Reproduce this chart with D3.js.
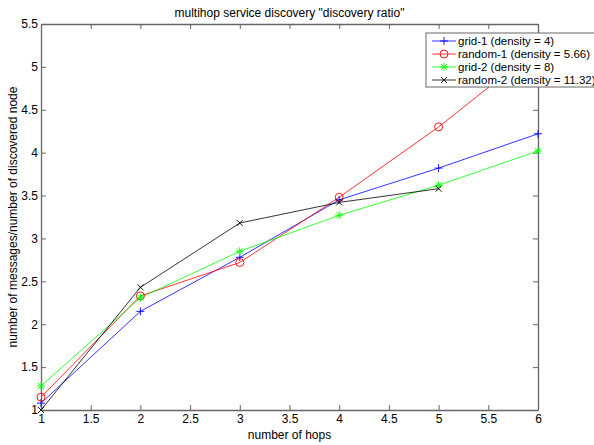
<!DOCTYPE html>
<html>
<head>
<meta charset="utf-8">
<script src="https://cdn.jsdelivr.net/npm/d3@7"></script>
<style>
  body { margin: 0; background: #fff; }
  text { font-family: "Liberation Sans", Arial, sans-serif; }
</style>
</head>
<body>
<div id="chart"></div>
<script>
// data
var hops = [1, 2, 3, 4, 5, 6]
var grid1 = [1.08, 2.15, 2.78, 3.45, 3.82, 4.22]
var random1 = [1.15, 2.33, 2.72, 3.48, 4.30, 5.22]
var grid2 = [1.28, 2.31, 2.85, 3.27, 3.62, 4.02]
var random2 = [1.0, 2.43, 3.18, 3.42, 3.58]
var xTicks = [1, 1.5, 2, 2.5, 3, 3.5, 4, 4.5, 5, 5.5, 6]
var yTicks = [1, 1.5, 2, 2.5, 3, 3.5, 4, 4.5, 5, 5.5]
var seriesNames = ['grid-1 (density = 4)', 'random-1 (density = 5.66)', 'grid-2 (density = 8)', 'random-2 (density = 11.32)']

var W = 594, H = 445
var m = {left: 41, right: 56, top: 24, bottom: 35}
var iw = W - m.left - m.right, ih = H - m.top - m.bottom

var series = [
	{name: seriesNames[0], vals: grid1, color: '#0000ff', marker: 'plus'},
	{name: seriesNames[1], vals: random1, color: '#ff0000', marker: 'circle'},
	{name: seriesNames[2], vals: grid2, color: '#00ff00', marker: 'star'},
	{name: seriesNames[3], vals: random2, color: '#000000', marker: 'cross'}
]

var svg = d3.select('#chart').append('svg').attr('width', W).attr('height', H)

var x = d3.scaleLinear().domain([1, 6]).range([0, iw])
var y = d3.scaleLinear().domain([1, 5.5]).range([ih, 0])

var g = svg.append('g').attr('transform', 'translate(' + m.left + ',' + m.top + ')')

// clip so lines stay inside the axes
svg.append('defs').append('clipPath').attr('id', 'clip')
	.append('rect').attr('width', iw).attr('height', ih)

var axisColor = '#666'
var tl = 5

// axes: bottom/left with labels, top/right ticks only
var xb = g.append('g').attr('transform', 'translate(0,' + ih + ')')
	.call(d3.axisBottom(x).tickValues(xTicks).tickSize(-tl).tickSizeOuter(0).tickPadding(6).tickFormat(d3.format('')))
var xt = g.append('g').call(d3.axisTop(x).tickValues(xTicks).tickSize(-tl).tickSizeOuter(0).tickFormat(''))
var yl = g.append('g').call(d3.axisLeft(y).tickValues(yTicks).tickSize(-tl).tickSizeOuter(0).tickPadding(3).tickFormat(d3.format('')))
var yr = g.append('g').attr('transform', 'translate(' + iw + ',0)')
	.call(d3.axisRight(y).tickValues(yTicks).tickSize(-tl).tickSizeOuter(0).tickFormat(''))

;[xb, xt, yl, yr].forEach(function(a) {
	a.selectAll('path').attr('stroke', axisColor).attr('stroke-width', 1.3)
	a.selectAll('line').attr('stroke', axisColor)
	a.selectAll('text').attr('fill', '#000').style('font-size', '12px')
})
xb.selectAll('text').attr('dy', '0.6em')

var line = d3.line()
	.x(function(d, i) { return x(hops[i]) })
	.y(function(d) { return y(d) })

var plot = g.append('g').attr('clip-path', 'url(#clip)')

function drawMarker(sel, type, color) {
	var s = 4
	if (type == 'circle') {
		sel.append('circle').attr('r', 4).attr('fill', 'none').attr('stroke', color).attr('stroke-width', 0.9)
	}
	if (type == 'plus' || type == 'star') {
		sel.append('path').attr('d', 'M' + (-s) + ',0H' + s + 'M0,' + (-s) + 'V' + s).attr('stroke', color).attr('stroke-width', 0.9)
	}
	if (type == 'cross' || type == 'star') {
		var c = s * 0.75
		sel.append('path').attr('d', 'M' + (-c) + ',' + (-c) + 'L' + c + ',' + c + 'M' + (-c) + ',' + c + 'L' + c + ',' + (-c)).attr('stroke', color).attr('stroke-width', 0.9)
	}
}

series.forEach(function(s) {
	plot.append('path').datum(s.vals).attr('d', line)
		.attr('fill', 'none').attr('stroke', s.color).attr('stroke-width', 0.8)
	s.vals.forEach(function(v, i) {
		var mk = g.append('g').attr('transform', 'translate(' + x(hops[i]) + ',' + y(v) + ')')
		drawMarker(mk, s.marker, s.color)
	})
})

// title and labels
svg.append('text').attr('x', m.left + iw / 2).attr('y', 17).attr('text-anchor', 'middle')
	.style('font-size', '12px').text('multihop service discovery "discovery ratio"')
svg.append('text').attr('x', m.left + iw / 2).attr('y', 439).attr('text-anchor', 'middle')
	.style('font-size', '12px').text('number of hops')
svg.append('text').attr('transform', 'translate(17,' + (m.top + ih / 2) + ') rotate(-90)')
	.attr('text-anchor', 'middle').style('font-size', '12px')
	.text('number of messages/number of discovered node')

// legend
var lg = svg.append('g').attr('transform', 'translate(426,33)')
lg.append('rect').attr('width', 180).attr('height', 54).attr('fill', '#fff').attr('stroke', axisColor)
series.forEach(function(s, i) {
	var ry = 8 + i * 13
	lg.append('line').attr('x1', 6).attr('x2', 30).attr('y1', ry).attr('y2', ry).attr('stroke', s.color).attr('stroke-width', 0.8)
	drawMarker(lg.append('g').attr('transform', 'translate(18,' + ry + ')'), s.marker, s.color)
	lg.append('text').attr('x', 32).attr('y', ry).attr('dy', '0.35em').style('font-size', '11.5px').text(s.name)
})
</script>
</body>
</html>
